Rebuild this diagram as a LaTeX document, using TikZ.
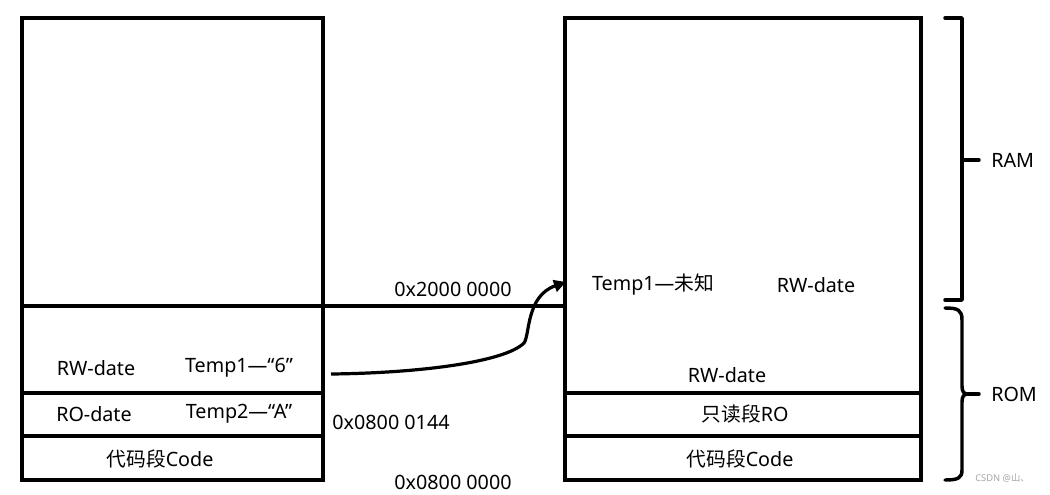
\documentclass[tikz,border=0pt]{standalone}
\usepackage{fontspec}
\setmainfont{Noto Sans}
\newfontfamily\cjk{Noto Sans CJK SC}
\usetikzlibrary{arrows.meta}
\begin{document}
\begin{tikzpicture}[x=0.75pt,y=-0.75pt,
  box/.style={line width=2.3pt},
  lbl/.style={inner sep=0pt,font=\fontsize{14.8}{16}\selectfont},
  brk/.style={line width=2.6pt,line cap=round,line join=round}]
\useasboundingbox (0,0) rectangle (1050,494);
% left memory
\draw[box] (22,18) rectangle (323,480);
\draw[box] (22,306) -- (565,306);
\draw[box] (22,393) -- (323,393);
\draw[box] (22,436) -- (323,436);
% right memory
\draw[box] (565,18) rectangle (921,480);
\draw[box] (565,393) -- (921,393);
\draw[box] (565,436) -- (921,436);
% left texts
\node[lbl] (lrw) at (96,368) {RW-date};
\node[lbl] (lt1) at (239,368) {Temp1—“6”};
\node[lbl] (lro) at (94,414) {RO-date};
\node[lbl] (lt2) at (239,414) {Temp2—“A”};
\node[lbl] (lcode) at (160,459) {{\cjk 代码段}Code};
% addresses
\node[lbl] (a2000) at (453,289) {0x2000 0000};
\node[lbl] (a0144) at (391,422) {0x0800 0144};
\node[lbl] (a0000) at (453,482) {0x0800 0000};
% right texts
\node[lbl] (rt1) at (653,285) {Temp1—{\cjk 未知}};
\node[lbl] (rrw1) at (816,285) {RW-date};
\node[lbl] (rrw2) at (727,375) {RW-date};
\node[lbl] (rro) at (745,414) {{\cjk 只读段}RO};
\node[lbl] (rcode) at (740,459) {{\cjk 代码段}Code};
% arrow
\coordinate (as) at (331,374);
\coordinate (ae) at (566,282);
\draw[line width=2.4pt,-{Triangle[length=9pt,width=9pt]}] (as) .. controls (420,373) and (505,362) .. (524,343)
  .. controls (530,335) and (526,296) .. (ae);
% RAM bracket
\draw[brk] (945,18) -- (962,18) -- (962,300) -- (945,300);
\draw[brk] (962,160) -- (979,160);
\node[lbl,anchor=west] (ram) at (991,160) {RAM};
% ROM brace
\draw[brk] (945,308) .. controls (958,308) and (962,310) .. (962,320) -- (962,386)
  .. controls (962,392) and (964,394) .. (968,394)
  .. controls (964,394) and (962,396) .. (962,402) -- (962,470)
  .. controls (962,478) and (958,480) .. (945,480);
\draw[brk] (965,394) -- (979,394);
\node[lbl,anchor=west] (rom) at (991,394) {ROM};
% watermark
\node[inner sep=0pt,font=\fontsize{7}{8}\selectfont,text=gray!70,anchor=west] (wm) at (975,478) {CSDN @{\cjk 山、}};
\end{tikzpicture}
\end{document}
